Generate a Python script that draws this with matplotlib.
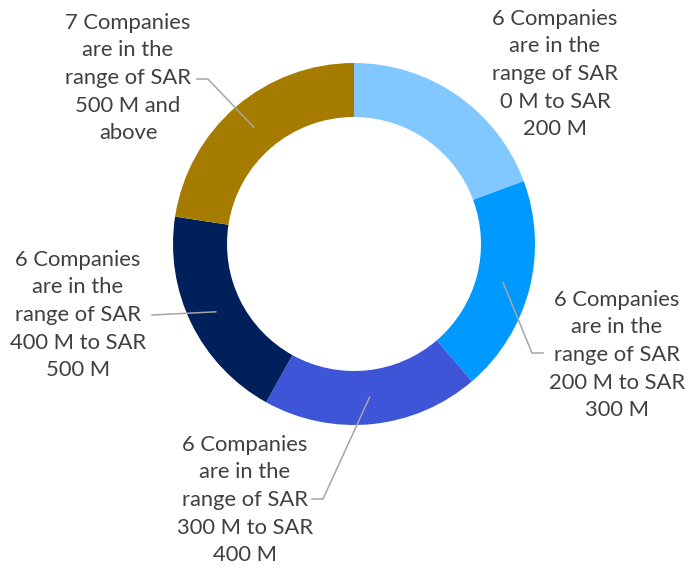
import numpy as np
import matplotlib.pyplot as plt

counts = [6, 6, 6, 6, 7]
labels = ["6 Companies\nare in the\nrange of SAR\n0 M to SAR\n200 M",
          "6 Companies\nare in the\nrange of SAR\n200 M to SAR\n300 M",
          "6 Companies\nare in the\nrange of SAR\n300 M to SAR\n400 M",
          "6 Companies\nare in the\nrange of SAR\n400 M to SAR\n500 M",
          "7 Companies\nare in the\nrange of SAR\n500 M and\nabove"]
colors = ["#80C8FF", "#0099FF", "#3D55D6", "#00205C", "#A67C00"]

# text centres (pixels, y down) and leader elbows
text_pos = [(555, 74), (617, 355), (245, 500), (78, 315), (128, 78)]
elbows = [None, (532, 353, 543), (323, 499, 312), (152, 315, None), (208, 79, 197)]

W, H = 700, 571
cx, cy, R, ring = 354, 244, 181, 54

fig = plt.figure(figsize=(7, 5.71), dpi=100)
ax = fig.add_axes([0, 0, 1, 1])

ax.pie(counts, colors=colors, startangle=90, counterclock=False,
       center=(cx, H - cy), radius=R, frame=True,
       wedgeprops=dict(width=ring, linewidth=0))
ax.set_xlim(0, W)
ax.set_ylim(0, H)
ax.set_aspect('equal')
ax.axis('off')

tot = sum(counts)
cum = np.cumsum([0] + counts)
rm = R - ring / 2
for i, lab in enumerate(labels):
    tx, ty = text_pos[i]
    ax.text(tx, H - ty, lab, ha='center', va='center', fontsize=15.8,
            family='Lato', color='#404040', linespacing=1.47)
    if elbows[i] is None:
        continue
    mid = (cum[i] + counts[i] / 2) / tot * 2 * np.pi
    ax_x = cx + rm * np.sin(mid)
    ax_y = cy - rm * np.cos(mid)
    ex, ey, end = elbows[i]
    xs = [ax_x, ex] + ([end] if end is not None else [])
    ys = [ax_y, ey] + ([ey] if end is not None else [])
    ax.plot(xs, [H - v for v in ys], color='#A6A6A6', lw=1.1)

fig.savefig('out.png', dpi=100)
